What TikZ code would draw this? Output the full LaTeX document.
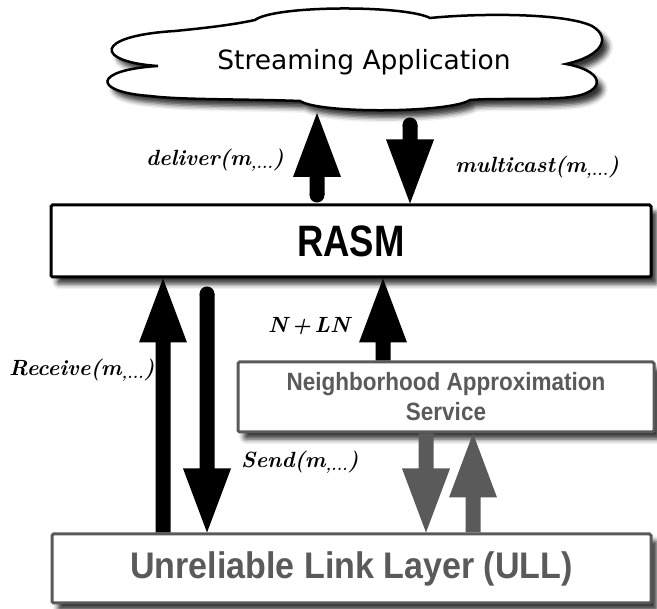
\documentclass[tikz,border=0pt]{standalone}
\usepackage{fontspec}
\newfontfamily\arialR[FakeStretch=0.83]{Liberation Sans}
\newfontfamily\arialN[FakeStretch=0.9]{Liberation Sans}
\newfontfamily\arialU[FakeStretch=0.92]{Liberation Sans}
\newfontfamily\dejavuf{DejaVu Sans}
\usetikzlibrary{calc,shadows.blur}
\definecolor{gr}{HTML}{5A5A5A}
\tikzset{
  shad/.style={blur shadow={shadow xshift=6pt, shadow yshift=-7pt, shadow blur radius=5pt, shadow opacity=80}},
  box/.style={draw, line width=3pt, fill=white, rounded corners=1.5pt, shad},
  lbl/.style={font=\fontsize{22}{26}\selectfont\bfseries\itshape, inner sep=0pt, anchor=west},
  fat/.style={to path={
    -- ($(\tikztostart)!7.5pt!-90:(\tikztotarget)$)
    -- ($(\tikztotarget)!64pt!(\tikztostart)!7.5pt!90:(\tikztostart)$)
    -- ($(\tikztotarget)!64pt!(\tikztostart)!24pt!90:(\tikztostart)$)
    -- (\tikztotarget)
    -- ($(\tikztotarget)!64pt!(\tikztostart)!24pt!-90:(\tikztostart)$)
    -- ($(\tikztotarget)!64pt!(\tikztostart)!7.5pt!-90:(\tikztostart)$)
    -- ($(\tikztostart)!7.5pt!90:(\tikztotarget)$)
    -- (\tikztostart)}},
}
\begin{document}
\begin{tikzpicture}[x=1pt,y=-1pt]
\useasboundingbox (0,0) rectangle (657,609);
% cloud
\draw[line width=2.5pt, fill=white, shad]
  (158,66)
  .. controls (95,62) and (92,36) .. (175,31)
  .. controls (205,28) and (232,25) .. (255,20)
  .. controls (275,5) and (405,5) .. (430,18)
  .. controls (480,13) and (565,13) .. (592,26)
  .. controls (612,38) and (602,56) .. (566,64)
  .. controls (610,72) and (606,96) .. (560,98)
  .. controls (525,100) and (495,98) .. (470,100)
  .. controls (450,113) and (320,114) .. (300,101)
  .. controls (250,99) and (180,100) .. (150,96)
  .. controls (92,92) and (92,70) .. (158,66) -- cycle;
\node (app) at (364,62) {\dejavuf\fontsize{26.5}{30}\selectfont Streaming Application};
% boxes
\node[box, draw=black, minimum width=600pt, minimum height=72pt,
      font=\arialR\bfseries\fontsize{44}{48}\selectfont] (rasm) at (351,241) {RASM};
\node[box, draw=gr, text=gr, minimum width=416pt, minimum height=70pt, align=center,
      font=\arialN\bfseries\fontsize{25}{30}\selectfont] (nas) at (446,397)
      {Neighborhood Approximation\\Service};
\node[box, draw=gr, text=gr, minimum width=599pt, minimum height=69pt,
      font=\arialU\bfseries\fontsize{37}{40}\selectfont] (ull) at (351.5,568.5)
      {Unreliable Link Layer (ULL)};
% arrow end points
\coordinate (dt) at (317,195);
\coordinate (dh) at (317,113);
\coordinate (mt) at (410,125);
\coordinate (xm) at (410,0);
\coordinate (xr) at (163,0);
\coordinate (st) at (207,294);
\coordinate (xn) at (383,0);
\coordinate (xd) at (426,0);
\coordinate (xu) at (473,0);
\coordinate (mh) at (rasm.north -| xm);
\coordinate (rt) at (ull.north -| xr);
\coordinate (rh) at (rasm.south -| xr);
\coordinate (sh) at (ull.north -| st);
\coordinate (nt) at (nas.north -| xn);
\coordinate (nh) at (rasm.south -| xn);
\coordinate (gdt) at (nas.south -| xd);
\coordinate (gdh) at (ull.north -| xd);
\coordinate (gut) at (ull.north -| xu);
\coordinate (guh) at (nas.south -| xu);
% arrows
\fill[fat] (dt) to (dh);
\fill (dt) circle[radius=7.5pt];
\fill[fat] (mt) to (mh);
\fill (mt) circle[radius=7.5pt];
\fill[fat] (rt) to (rh);
\fill[fat] (st) to (sh);
\fill (st) circle[radius=7.5pt];
\fill[fat] (nt) to (nh);
\fill[fat, gr] (gdt) to (gdh);
\fill[fat, gr] (gut) to (guh);
% labels
\node[lbl] (ldel) at (146,160) {deliver(m\textsubscript{,...})};
\node[lbl] (lmul) at (455,167) {multicast(m\textsubscript{,...})};
\node[lbl] (lrec) at (9,370) {Receive(m\textsubscript{,...})};
\node[lbl] (lsen) at (241,462) {Send(m\textsubscript{,...})};
\node[lbl] (lnln) at (268,326) {N{\,}+{\,}LN};
\end{tikzpicture}
\end{document}
